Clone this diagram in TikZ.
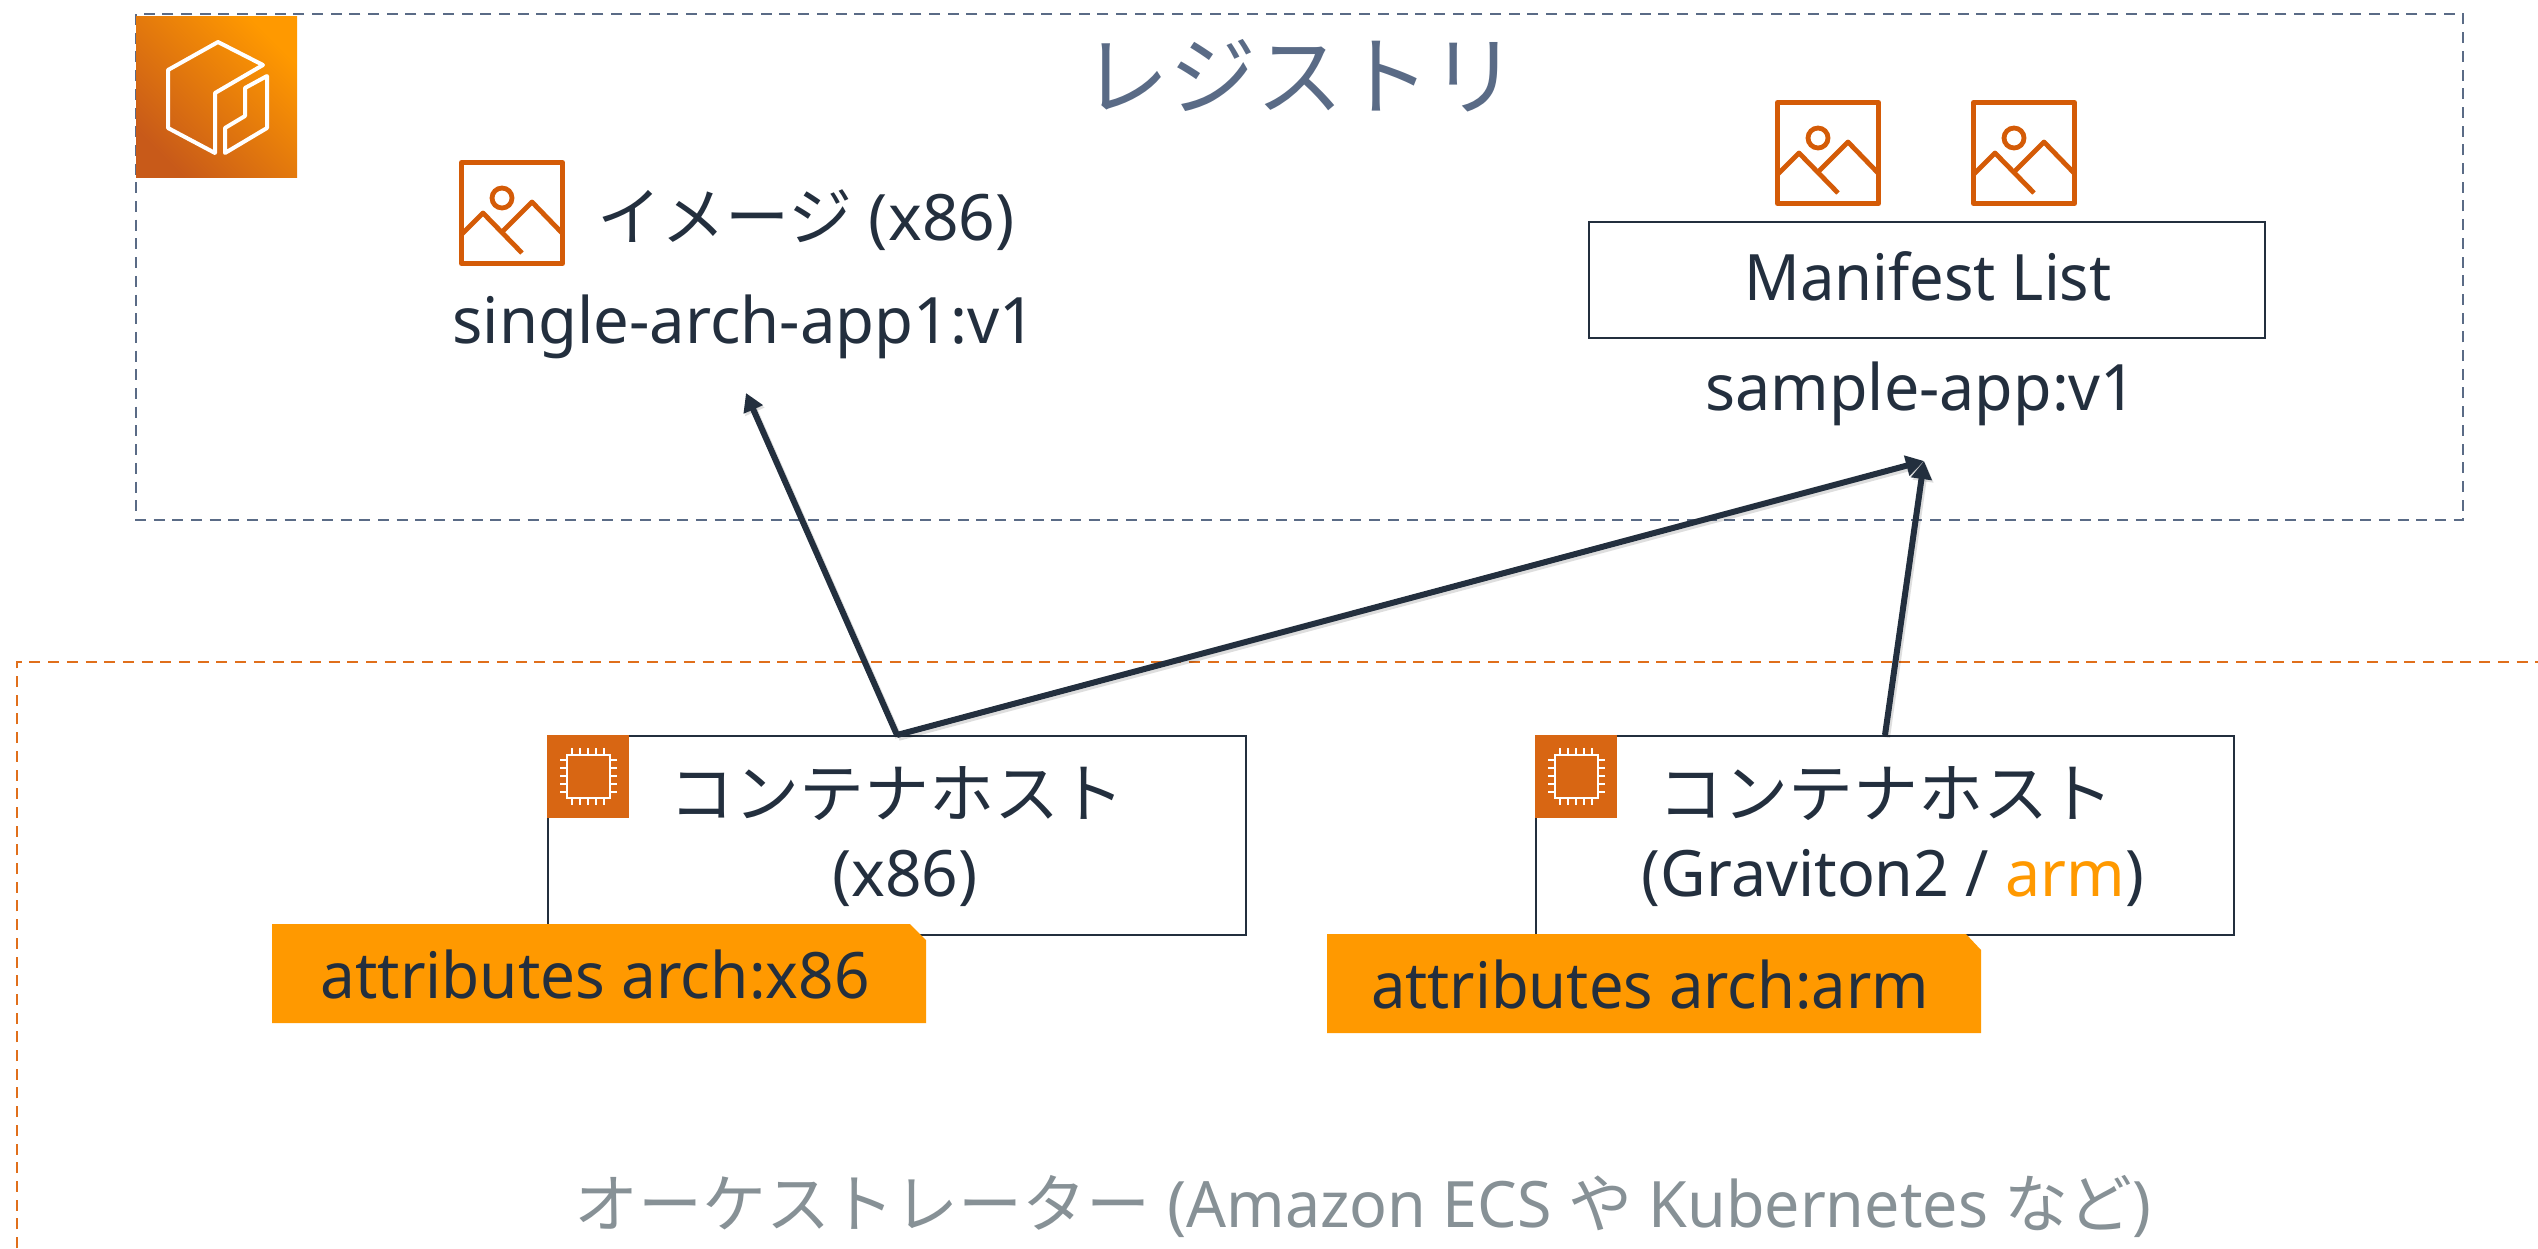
\documentclass[tikz,border=0pt]{standalone}
\usepackage{fontspec}
\setmainfont{Noto Sans}
\newfontfamily\jp{Noto Sans CJK JP}
\newfontfamily\sansA[FakeStretch=0.96]{Noto Sans}
\newfontfamily\sansC[FakeStretch=0.97]{Noto Sans}
\newfontfamily\sansB[FakeStretch=0.98]{Noto Sans}
\newfontfamily\sansD[FakeStretch=0.99]{Noto Sans}
\usetikzlibrary{arrows.meta}
\definecolor{ink}{HTML}{232F3E}
\definecolor{slate}{HTML}{5A6B86}
\definecolor{awsorange}{HTML}{FF9900}
\definecolor{burnt}{HTML}{D86613}
\definecolor{gradlow}{HTML}{C85A19}
\definecolor{iconorange}{HTML}{D45B07}
\definecolor{dashorange}{HTML}{E06F1B}
\definecolor{mutegray}{HTML}{879196}
\tikzset{
  x=0.5pt,y=-0.5pt,
  lbl/.style={font=\fontsize{32}{38}\selectfont,text=ink,inner sep=0pt,anchor=base},
  jplbl/.style={lbl,font=\fontsize{32.5}{38}\selectfont},
  muted/.style={lbl,text=mutegray},
  title/.style={lbl,text=slate,font=\fontsize{43.5}{50}\selectfont},
  frameline/.style={line width=1.4pt,dash pattern=on 5.5pt off 3.85pt},
  boxnode/.style={draw=ink,line width=1pt,fill=white,inner sep=0pt,anchor=north west},
  flow/.style={draw=ink,line width=3pt,-{Triangle[length=9pt,width=10pt]},
    preaction={draw=black,opacity=.13,line width=3.4pt,transform canvas={xshift=.8pt,yshift=-1.2pt}}},
  imgicon/.pic={
    \draw[iconorange,line width=2.5pt,line join=round] (2.5,2.5) rectangle (103.5,103.5);
    \draw[iconorange,line width=2.4pt] (43,38) circle[radius=10];
    \draw[iconorange,line width=2.4pt,line join=round] (3,74) -- (24,53) -- (63,93);
    \draw[iconorange,line width=2.4pt,line join=round] (44,71) -- (73,42) -- (103,73);
  },
  chipicon/.pic={
    \fill[burnt] (0,0) rectangle (82,83);
    \draw[white,line width=1.3pt] (20,20) rectangle (63,63);
    \foreach \p in {25,33,41,49,57}{
      \draw[white,line width=1pt] (\p,13) -- (\p,20) (\p,63) -- (\p,70);
      \draw[white,line width=1pt] (13,\p) -- (20,\p) (63,\p) -- (70,\p);
    }
  },
}
\begin{document}
\begin{tikzpicture}
\useasboundingbox (0,0) rectangle (2538,1248);
% registry frame
\draw[slate,frameline] (136,14) rectangle (2463,520);
% orchestrator frame
\draw[dashorange,frameline] (17,1248) -- (17,662) -- (2538,662);
% registry icon
\shade[shading=axis,bottom color=gradlow,top color=awsorange,shading angle=-45] (136,16) rectangle (297,177);
\draw[white,line width=2pt,line join=round] (168,70) -- (218,42) -- (263,65) -- (215,93) -- (215,153) -- (168,128) -- cycle;
\draw[white,line width=2pt,line join=round] (245,88) -- (267,76) -- (267,128) -- (225,153) -- (225,128) -- (245,116) -- cycle;
\node[title] (regtitle) at (1300,108) {\jp レジストリ};
% images
\pic at (459,160) {imgicon};
\pic at (1775,100) {imgicon};
\pic at (1971,100) {imgicon};
\node[lbl] (imglabel) at (806,240) {{\jp イメージ} (x86)};
\node[lbl] (single) at (744,343) {\sansD single-arch-app1:v1};
\node[boxnode,minimum width=338pt,minimum height=58pt] (manifest) at (1588,221) {};
\node[lbl] (mlist) at (1928,300) {\sansA Manifest List};
\node[lbl] (sample) at (1921,410) {\sansB sample-app:v1};
% hosts
\node[boxnode,minimum width=349pt,minimum height=99.5pt] (host1) at (547,735) {};
\node[boxnode,minimum width=349pt,minimum height=99.5pt] (host2) at (1535,735) {};
\pic at (547,735) {chipicon};
\pic at (1535,735) {chipicon};
\node[jplbl] (h1a) at (897,817) {\jp コンテナホスト};
\node[lbl] (h1b) at (905,896) {(x86)};
\node[jplbl] (h2a) at (1886,817) {\jp コンテナホスト};
\node[lbl] (h2b) at (1893,896) {\sansB (Graviton2 / \textcolor{awsorange}{arm})};
% tags
\fill[awsorange] (272,924) -- (910,924) -- (926,940) -- (926,1023) -- (272,1023) -- cycle;
\fill[awsorange] (1327,934) -- (1966,934) -- (1981,950) -- (1981,1033) -- (1327,1033) -- cycle;
\node[lbl] (tag1) at (595,998) {\sansC attributes arch:x86};
\node[lbl] (tag2) at (1650,1008) {\sansA attributes arch:arm};
\node[muted] (orch) at (1363,1227) {{\jp オーケストレーター} (\sansB Amazon ECS {\jp や} Kubernetes {\jp など})};
% connectors
\coordinate (tipa) at (746,393);
\coordinate (tipb) at (1924,461);
\draw[flow] (host1.north) -- (tipa);
\draw[flow] (host1.north) -- (tipb);
\draw[flow] (host2.north) -- (tipb);
\end{tikzpicture}
\end{document}
